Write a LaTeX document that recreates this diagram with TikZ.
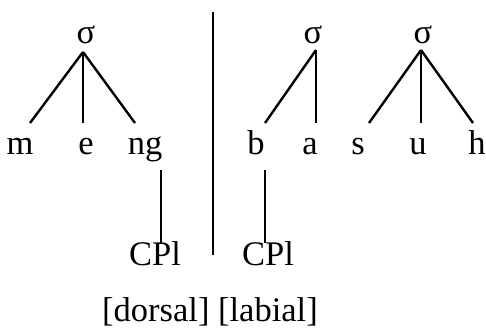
\documentclass[tikz,border=0pt]{standalone}
\usepackage{fontspec}
\setmainfont{Liberation Serif}
\begin{document}
\begin{tikzpicture}[x=1pt,y=-1pt,
  lbl/.style={anchor=base,inner sep=0pt,font=\fontsize{34.5}{40}\selectfont},
  br/.style={line width=2.4pt}]
\useasboundingbox (0,0) rectangle (486,327);
% syllable nodes
\node[lbl] (s1) at (86,43) {σ};
\node[lbl] (s2) at (313,43) {σ};
\node[lbl] (s3) at (423,43) {σ};
% segments
\node[lbl] (m) at (20,154) {m};
\node[lbl] (e) at (86,154) {e};
\node[lbl] (ng) at (145,154) {ng};
\node[lbl] (b) at (256,154) {b};
\node[lbl] (a) at (310,154) {a};
\node[lbl] (s) at (358,154) {s};
\node[lbl] (u) at (418,154) {u};
\node[lbl] (h) at (477,154) {h};
\node[lbl] (cp1) at (155,265) {CPl};
\node[lbl] (cp2) at (268,265) {CPl};
\node[lbl] (feat) at (210,321) {[dorsal] [labial]};
% connector end points
\coordinate (s1b) at (83,52);
\coordinate (s2b) at (316,50);
\coordinate (s3b) at (421,50);
\coordinate (mt) at (30,123);
\coordinate (et) at (83,123);
\coordinate (ngt) at (135,123);
\coordinate (bt) at (265,123);
\coordinate (at) at (316,123);
\coordinate (st) at (369,123);
\coordinate (ut) at (421,123);
\coordinate (ht) at (473,123);
\coordinate (ngb) at (161,170);
\coordinate (cp1t) at (161,243);
\coordinate (bb) at (265,170);
\coordinate (cp2t) at (265,243);
\coordinate (divt) at (213,12);
\coordinate (divb) at (213,255);
% connectors
\draw[br] (s1b) -- (mt);
\draw[br] (s1b) -- (et);
\draw[br] (s1b) -- (ngt);
\draw[br] (s2b) -- (bt);
\draw[br] (s2b) -- (at);
\draw[br] (s3b) -- (st);
\draw[br] (s3b) -- (ut);
\draw[br] (s3b) -- (ht);
\draw[br] (ngb) -- (cp1t);
\draw[br] (bb) -- (cp2t);
\draw[br] (divt) -- (divb);
\end{tikzpicture}
\end{document}
